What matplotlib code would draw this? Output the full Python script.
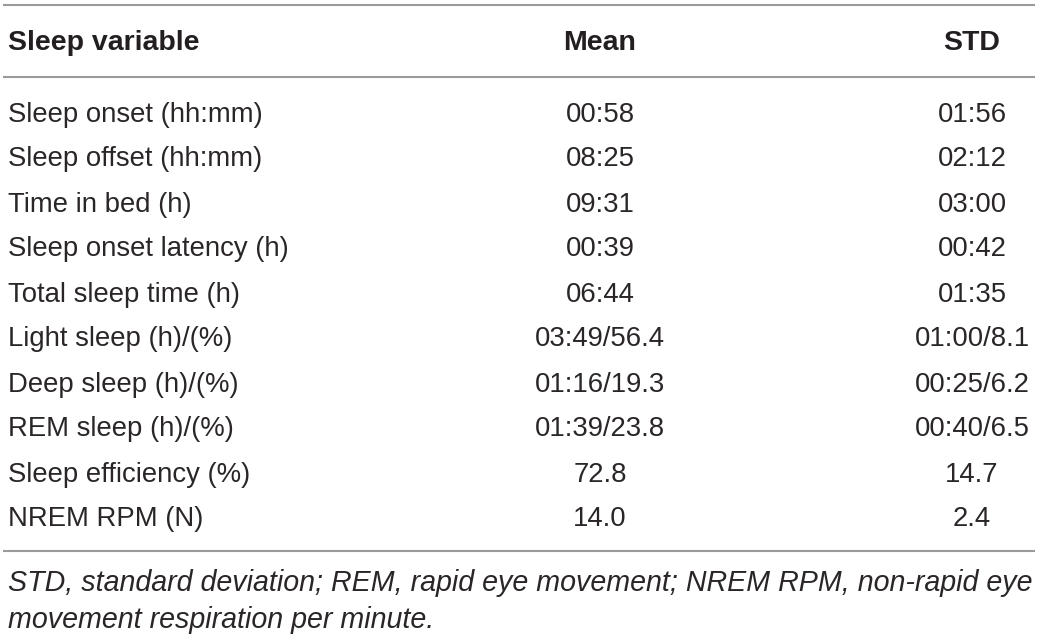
import matplotlib
matplotlib.use('Agg')
import matplotlib.pyplot as plt

header = ['Sleep variable', 'Mean', 'STD']
variables = ['Sleep onset (hh:mm)', 'Sleep offset (hh:mm)', 'Time in bed (h)',
             'Sleep onset latency (h)', 'Total sleep time (h)', 'Light sleep (h)/(%)',
             'Deep sleep (h)/(%)', 'REM sleep (h)/(%)', 'Sleep efficiency (%)',
             'NREM RPM (N)']
means = ['00:58', '08:25', '09:31', '00:39', '06:44', '03:49/56.4',
         '01:16/19.3', '01:39/23.8', '72.8', '14.0']
stds = ['01:56', '02:12', '03:00', '00:42', '01:35', '01:00/8.1',
        '00:25/6.2', '00:40/6.5', '14.7', '2.4']
footnote = ['STD, standard deviation; REM, rapid eye movement; NREM RPM, non-rapid eye',
            'movement respiration per minute.']

W, H = 1040, 637
fig = plt.figure(figsize=(W / 100, H / 100), dpi=100)
ax = fig.add_axes([0, 0, 1, 1])
ax.set_xlim(0, W)
ax.set_ylim(H, 0)
ax.axis('off')

plt.rcParams['font.family'] = ['Liberation Sans', 'DejaVu Sans']
txt = '#2a2627'
fs = 19.8
col_x = [8, 600, 972]

# rules
for y in [5, 77, 551]:
    ax.plot([3, 1035], [y, y], color='#9a9a9a', lw=1.5, solid_capstyle='butt')

# header
for k, h in enumerate(header):
    ax.text(col_x[k], 43, h, ha='left' if k == 0 else 'center', va='center',
            fontsize=20.5, weight='bold', color='#231f20')

# rows
for i, (v, m, s) in enumerate(zip(variables, means, stds)):
    y = 114.5 + 45 * i
    ax.text(col_x[0], y, v, ha='left', va='center', fontsize=fs, color=txt)
    ax.text(col_x[1], y, m, ha='center', va='center', fontsize=fs, color=txt)
    ax.text(col_x[2], y, s, ha='center', va='center', fontsize=fs, color=txt)

# footnote
for j, line in enumerate(footnote):
    ax.text(col_x[0], 583 + 37 * j, line, ha='left', va='center', fontsize=20.6,
            style='italic', color=txt)

fig.savefig('out.png', dpi=100)
